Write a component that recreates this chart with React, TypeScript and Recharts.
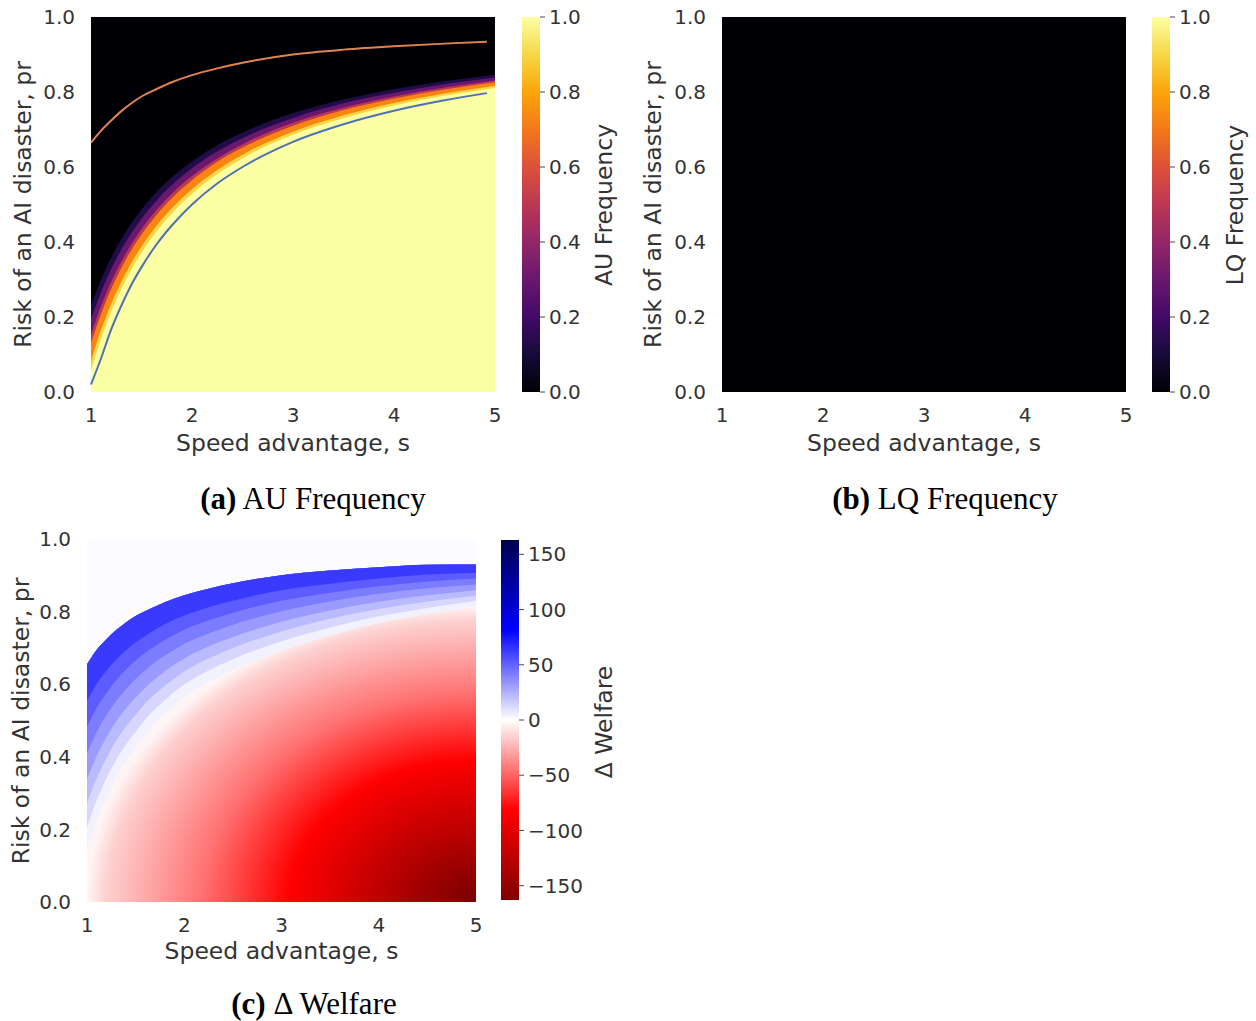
import React from 'react';
import { ComposedChart, Area, Line, XAxis, YAxis, CartesianGrid } from 'recharts';

// =============================================================================
// Data
// =============================================================================

const S_TICKS = [1, 2, 3, 4, 5];
const PR_TICKS = [0, 0.2, 0.4, 0.6, 0.8, 1];
const FREQ_TICKS = [0, 0.2, 0.4, 0.6, 0.8, 1];
const WELFARE_TICKS = [-150, -100, -50, 0, 50, 100, 150];
const WELFARE_RANGE = [-163, 163];

// (a) AU frequency: upper edge (pr) of each colour band, per speed advantage s
const S_BAND = [1, 1.1, 1.2, 1.3, 1.4, 1.5, 1.65, 1.8, 2, 2.25, 2.5, 3, 3.5, 4, 4.5, 5];
const AU_DARK = [0.231, 0.301, 0.359, 0.408, 0.451, 0.487, 0.534, 0.573, 0.615, 0.658, 0.692, 0.744, 0.78, 0.808, 0.829, 0.846];
const AU_PURPLE = [0.194, 0.267, 0.328, 0.38, 0.424, 0.462, 0.511, 0.552, 0.597, 0.642, 0.677, 0.731, 0.77, 0.798, 0.821, 0.839];
const AU_RED = [0.153, 0.23, 0.294, 0.348, 0.395, 0.435, 0.486, 0.529, 0.576, 0.623, 0.661, 0.718, 0.758, 0.788, 0.812, 0.831];
const AU_ORANGE = [0.13, 0.209, 0.275, 0.331, 0.379, 0.42, 0.473, 0.517, 0.565, 0.614, 0.652, 0.71, 0.752, 0.783, 0.807, 0.826];
const AU_GOLD = [0.083, 0.166, 0.235, 0.294, 0.345, 0.388, 0.444, 0.49, 0.541, 0.592, 0.633, 0.694, 0.738, 0.771, 0.796, 0.817];
const AU_PALE = [0.057, 0.142, 0.214, 0.274, 0.326, 0.371, 0.428, 0.476, 0.528, 0.581, 0.623, 0.686, 0.73, 0.764, 0.79, 0.811];

// (a) threshold curves
const S_LINE = [1, 1.1, 1.2, 1.3, 1.4, 1.5, 1.65, 1.8, 2, 2.25, 2.5, 3, 3.5, 4, 4.5, 4.92];
const BLUE_LINE = [0.02, 0.09, 0.167, 0.23, 0.286, 0.333, 0.394, 0.444, 0.5, 0.556, 0.6, 0.667, 0.714, 0.75, 0.778, 0.797];
const ORANGE_LINE = [0.665, 0.697, 0.724, 0.749, 0.77, 0.788, 0.808, 0.826, 0.845, 0.863, 0.878, 0.9, 0.913, 0.922, 0.929, 0.934];

// (b) LQ frequency is 0 over the whole grid
const LQ_S = [1, 5];
const LQ_TOP = [1, 1];

// (c) welfare: zero contour, top of the positive band, and blue levels in between
const S_W = [1, 1.1, 1.2, 1.3, 1.4, 1.5, 1.65, 1.8, 2, 2.25, 2.5, 3, 3.5, 4, 4.5, 5];
const W_ZERO = [0.145, 0.223, 0.288, 0.343, 0.387, 0.425, 0.478, 0.519, 0.565, 0.607, 0.64, 0.693, 0.735, 0.769, 0.794, 0.815];
const W_TOP = [0.655, 0.695, 0.724, 0.749, 0.77, 0.788, 0.808, 0.826, 0.845, 0.863, 0.878, 0.9, 0.913, 0.922, 0.929, 0.93];
const W_B1 = [0.206, 0.28, 0.34, 0.392, 0.433, 0.469, 0.518, 0.556, 0.599, 0.638, 0.669, 0.718, 0.756, 0.787, 0.81, 0.829];
const W_B2 = [0.273, 0.341, 0.397, 0.445, 0.483, 0.516, 0.561, 0.596, 0.635, 0.671, 0.7, 0.745, 0.78, 0.807, 0.828, 0.844];
const W_B3 = [0.339, 0.402, 0.454, 0.497, 0.533, 0.563, 0.603, 0.636, 0.671, 0.704, 0.73, 0.772, 0.803, 0.827, 0.845, 0.859];
const W_B4 = [0.41, 0.468, 0.515, 0.554, 0.586, 0.614, 0.65, 0.679, 0.711, 0.74, 0.764, 0.801, 0.828, 0.849, 0.864, 0.875];
const W_B5 = [0.482, 0.535, 0.576, 0.611, 0.64, 0.665, 0.696, 0.722, 0.75, 0.776, 0.797, 0.83, 0.852, 0.87, 0.883, 0.891];
const W_B6 = [0.553, 0.601, 0.637, 0.668, 0.693, 0.715, 0.742, 0.765, 0.789, 0.812, 0.83, 0.859, 0.877, 0.891, 0.902, 0.907];

// =============================================================================
// Styles
// =============================================================================

const FONT = '"DejaVu Sans", sans-serif';
const SERIF = '"Liberation Serif", "Times New Roman", serif';
const TEXT = '#333333';
const TICK = { fontSize: 20, fill: TEXT, fontFamily: FONT };

const INFERNO = [
  '#000004', '#160b39', '#420a68', '#6a176e', '#932667', '#bc3754',
  '#dd513a', '#f37819', '#fca50a', '#f6d746', '#fcffa4',
];

const auRows = S_BAND.map((s, i) => ({
  s,
  dark: AU_DARK[i],
  purple: AU_PURPLE[i],
  red: AU_RED[i],
  orange: AU_ORANGE[i],
  gold: AU_GOLD[i],
  pale: AU_PALE[i],
}));
const lineRows = S_LINE.map((s, i) => ({ s, blue: BLUE_LINE[i], orange: ORANGE_LINE[i] }));
const lqRows = LQ_S.map((s, i) => ({ s, top: LQ_TOP[i] }));
const welfareRows = S_W.map((s, i) => ({
  s,
  zero: W_ZERO[i],
  l0: [W_ZERO[i], W_TOP[i]],
  l1: [W_B1[i], W_TOP[i]],
  l2: [W_B2[i], W_TOP[i]],
  l3: [W_B3[i], W_TOP[i]],
  l4: [W_B4[i], W_TOP[i]],
  l5: [W_B5[i], W_TOP[i]],
  l6: [W_B6[i], W_TOP[i]],
}));

const AU_LAYERS = [
  { key: 'dark', color: '#1f0c48' },
  { key: 'purple', color: '#6a176e' },
  { key: 'red', color: '#bc3754' },
  { key: 'orange', color: '#f8850f' },
  { key: 'gold', color: '#f6d746' },
  { key: 'pale', color: '#fcffa4' },
];

const BLUE_LAYERS = [
  { key: 'l0', color: '#f2f2ff' },
  { key: 'l1', color: '#d6d6ff' },
  { key: 'l2', color: '#babaff' },
  { key: 'l3', color: '#9b9bff' },
  { key: 'l4', color: '#7c7cff' },
  { key: 'l5', color: '#5c5cff' },
  { key: 'l6', color: '#3a3aff' },
];

const fmtPr = (v: number) => v.toFixed(1);
const fmtWelfare = (v: number) => (v < 0 ? `\u2212${Math.abs(v)}` : String(v));

// =============================================================================
// Colour bar
// =============================================================================

function ColorBar({
  left,
  top,
  width,
  height,
  margin,
  domain,
  ticks,
  id,
  stops,
  fmt,
}: {
  left: number;
  top: number;
  width: number;
  height: number;
  margin: { top: number; right: number; bottom: number; left: number };
  domain: number[];
  ticks: number[];
  id: string;
  stops: { offset: number; color: string }[];
  fmt: (v: number) => string;
}) {
  const rows = [
    { c: 0, band: [domain[0], domain[1]] },
    { c: 1, band: [domain[0], domain[1]] },
  ];
  return (
    <div style={{ position: 'absolute', left, top }}>
      <ComposedChart width={width} height={height} margin={margin} data={rows}>
        <defs>
          <linearGradient id={id} x1="0" y1="1" x2="0" y2="0">
            {stops.map((st) => (
              <stop key={st.offset} offset={st.offset} stopColor={st.color} />
            ))}
          </linearGradient>
        </defs>
        <XAxis dataKey="c" type="number" domain={[0, 1]} hide />
        <YAxis
          orientation="right"
          type="number"
          domain={domain}
          ticks={ticks}
          interval={0}
          tickFormatter={fmt}
          axisLine={false}
          tickLine={{ stroke: '#444' }}
          tickSize={5}
          tickMargin={4}
          width={60}
          tick={TICK}
        />
        <Area
          dataKey="band"
          type="linear"
          stroke="none"
          fill={`url(#${id})`}
          fillOpacity={1}
          isAnimationActive={false}
        />
      </ComposedChart>
    </div>
  );
}

// =============================================================================
// Component
// =============================================================================

export default function App() {
  const infernoStops = INFERNO.map((color, i) => ({ offset: i / 10, color }));
  const seismicStops = [
    { offset: 0, color: '#800000' },
    { offset: 0.25, color: '#ff0000' },
    { offset: 0.5, color: '#ffffff' },
    { offset: 0.75, color: '#0000ff' },
    { offset: 1, color: '#00004c' },
  ];

  const xAxis = (
    <XAxis
      dataKey="s"
      type="number"
      domain={[1, 5]}
      ticks={S_TICKS}
      interval={0}
      axisLine={false}
      tickLine={false}
      tickSize={0}
      tickMargin={16}
      height={30}
      tick={TICK}
    />
  );
  const yAxis = (
    <YAxis
      type="number"
      domain={[0, 1]}
      ticks={PR_TICKS}
      interval={0}
      tickFormatter={fmtPr}
      axisLine={false}
      tickLine={false}
      tickSize={0}
      tickMargin={16}
      width={60}
      tick={TICK}
    />
  );

  return (
    <div
      style={{
        position: 'absolute',
        left: 0,
        top: 0,
        width: 1256,
        height: 1021,
        background: '#fff',
        fontFamily: FONT,
      }}
    >
      {/* (a) AU Frequency */}
      <div style={{ position: 'absolute', left: 0, top: 0 }}>
        <ComposedChart width={520} height={440} margin={{ top: 17, right: 25, bottom: 18, left: 31 }}>
          <CartesianGrid fill="#000004" stroke="none" />
          {xAxis}
          {yAxis}
          {AU_LAYERS.map((l) => (
            <Area
              key={l.key}
              data={auRows}
              dataKey={l.key}
              type="monotone"
              stroke="none"
              fill={l.color}
              fillOpacity={1}
              isAnimationActive={false}
            />
          ))}
          <Line
            data={lineRows}
            dataKey="orange"
            type="monotone"
            stroke="#dd8452"
            strokeWidth={2}
            dot={false}
            isAnimationActive={false}
          />
          <Line
            data={lineRows}
            dataKey="blue"
            type="monotone"
            stroke="#4c72b0"
            strokeWidth={2}
            dot={false}
            isAnimationActive={false}
          />
        </ComposedChart>
      </div>
      <ColorBar
        left={500}
        top={0}
        width={120}
        height={410}
        margin={{ top: 17, right: 20, bottom: 18, left: 22 }}
        domain={[0, 1]}
        ticks={FREQ_TICKS}
        id="infernoA"
        stops={infernoStops}
        fmt={fmtPr}
      />

      {/* (b) LQ Frequency */}
      <div style={{ position: 'absolute', left: 630, top: 0 }}>
        <ComposedChart width={520} height={440} margin={{ top: 17, right: 24, bottom: 18, left: 32 }}>
          <CartesianGrid fill="#000004" stroke="none" />
          {xAxis}
          {yAxis}
          <Area
            data={lqRows}
            dataKey="top"
            type="linear"
            stroke="none"
            fill="#000004"
            fillOpacity={1}
            isAnimationActive={false}
          />
        </ComposedChart>
      </div>
      <ColorBar
        left={1130}
        top={0}
        width={120}
        height={410}
        margin={{ top: 17, right: 20, bottom: 18, left: 22 }}
        domain={[0, 1]}
        ticks={FREQ_TICKS}
        id="infernoB"
        stops={infernoStops}
        fmt={fmtPr}
      />

      {/* (c) Delta Welfare */}
      <div style={{ position: 'absolute', left: 0, top: 520 }}>
        <ComposedChart width={500} height={440} margin={{ top: 19, right: 24, bottom: 28, left: 27 }}>
          <defs>
            <radialGradient id="welfareNeg" cx="1" cy="1" r="1" fx="1" fy="1">
              <stop offset="0" stopColor="#780000" />
              <stop offset="0.48" stopColor="#ff0000" />
              <stop offset="0.7" stopColor="#ff7070" />
              <stop offset="0.95" stopColor="#fdd0d0" />
              <stop offset="1" stopColor="#fff4f4" />
            </radialGradient>
          </defs>
          <CartesianGrid fill="#fcfbff" stroke="none" />
          {xAxis}
          {yAxis}
          <Area
            data={welfareRows}
            dataKey="zero"
            type="monotone"
            stroke="none"
            fill="url(#welfareNeg)"
            fillOpacity={1}
            isAnimationActive={false}
          />
          {BLUE_LAYERS.map((l) => (
            <Area
              key={l.key}
              data={welfareRows}
              dataKey={l.key}
              type="monotone"
              stroke="none"
              fill={l.color}
              fillOpacity={1}
              isAnimationActive={false}
            />
          ))}
        </ComposedChart>
      </div>
      <ColorBar
        left={480}
        top={520}
        width={130}
        height={400}
        margin={{ top: 20, right: 31, bottom: 20, left: 21 }}
        domain={WELFARE_RANGE}
        ticks={WELFARE_TICKS}
        id="seismicC"
        stops={seismicStops}
        fmt={fmtWelfare}
      />

      {/* Axis titles, colour bar titles and captions */}
      <svg
        width={1256}
        height={1021}
        style={{ position: 'absolute', left: 0, top: 0, pointerEvents: 'none' }}
      >
        <g fontFamily={FONT} fontSize={23.5} fill={TEXT} textAnchor="middle">
          <text x={293} y={451}>Speed advantage, s</text>
          <text x={924} y={451}>Speed advantage, s</text>
          <text x={281.5} y={959}>Speed advantage, s</text>
          <text x={30.5} y={204.5} transform="rotate(-90 30.5 204.5)">Risk of an AI disaster, pr</text>
          <text x={661} y={204.5} transform="rotate(-90 661 204.5)">Risk of an AI disaster, pr</text>
          <text x={28.8} y={721} transform="rotate(-90 28.8 721)">Risk of an AI disaster, pr</text>
          <text x={612} y={205} transform="rotate(-90 612 205)">AU Frequency</text>
          <text x={1243} y={205} transform="rotate(-90 1243 205)">LQ Frequency</text>
          <text x={612} y={722} transform="rotate(-90 612 722)">Δ Welfare</text>
        </g>
        <g fontFamily={SERIF} fontSize={31} fill="#000" textAnchor="middle">
          <text x={313} y={509}>
            <tspan fontWeight="bold">(a)</tspan> AU Frequency
          </text>
          <text x={945} y={509}>
            <tspan fontWeight="bold">(b)</tspan> LQ Frequency
          </text>
          <text x={314} y={1014}>
            <tspan fontWeight="bold">(c)</tspan> Δ Welfare
          </text>
        </g>
      </svg>
    </div>
  );
}
